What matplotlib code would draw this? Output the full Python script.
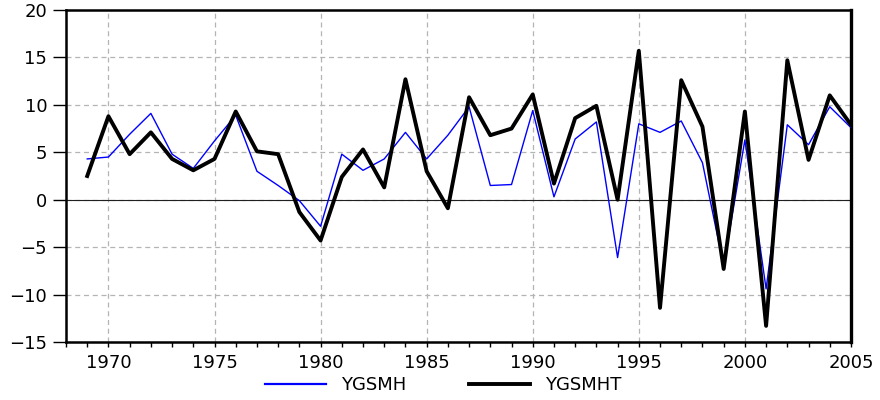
import matplotlib
matplotlib.use("Agg")
import matplotlib.pyplot as plt
from matplotlib.ticker import MultipleLocator

plt.rcParams['font.family'] = ['DejaVu Sans']

years = list(range(1969, 2006))
ygsmh = [4.3, 4.5, 6.9, 9.1, 4.8, 3.3, 6.2, 8.9, 3.0, 1.5, -0.1, -2.8,
         4.8, 3.1, 4.3, 7.1, 4.3, 6.8, 9.8, 1.5, 1.6, 9.4, 0.3, 6.4, 8.2,
         -6.1, 8.0, 7.1, 8.3, 3.9, -7.0, 6.3, -9.4, 7.9, 5.8, 9.8, 7.6]
ygsmht = [2.5, 8.8, 4.8, 7.1, 4.3, 3.1, 4.3, 9.3, 5.1, 4.8, -1.3, -4.3,
          2.4, 5.3, 1.3, 12.7, 3.0, -0.9, 10.8, 6.8, 7.5, 11.1, 1.7, 8.6, 9.9,
          0.0, 15.7, -11.4, 12.6, 7.7, -7.3, 9.3, -13.3, 14.7, 4.2, 11.0, 7.9]
yticks = [-15, -10, -5, 0, 5, 10, 15, 20]
xticks = [1970, 1975, 1980, 1985, 1990, 1995, 2000, 2005]

fig = plt.figure(figsize=(8.8, 4.0), dpi=100)
ax = fig.add_axes([0.075, 0.145, 0.892, 0.83])

ax.plot(years, ygsmh, color='#0000ff', lw=1.0, label='YGSMH', zorder=3)
ax.plot(years, ygsmht, color='black', lw=2.8, label='YGSMHT', zorder=4)
ax.axhline(0, color='#202020', lw=0.8, zorder=2)

ax.set_xlim(1968, 2005)
ax.set_ylim(-15, 20)
ax.set_xticks(xticks)
ax.xaxis.set_minor_locator(MultipleLocator(1))
ax.set_yticks(yticks)
ax.grid(True, which='major', color='#b4b4b4', linestyle=(0, (4, 3)), lw=0.9, zorder=0)

for s in ax.spines.values():
    s.set_linewidth(1.8)
    s.set_color('black')
ax.spines['right'].set_linewidth(2.4)

ax.tick_params(axis='y', which='major', direction='out', length=9.5, width=1.0,
               labelsize=13, pad=4)
ax.tick_params(axis='x', which='major', direction='out', length=3.5, width=1.0,
               labelsize=13, pad=5)
ax.tick_params(axis='x', which='minor', direction='out', length=3.5, width=1.0)

leg = fig.legend(loc='center', bbox_to_anchor=(443 / 880, 1 - 385 / 400), ncol=2,
                 frameon=False, fontsize=13, handlelength=3.4, columnspacing=3.5,
                 handletextpad=0.8, borderpad=0.0)
leg.get_lines()[0].set_linewidth(1.6)

fig.savefig('out.png', dpi=100)
